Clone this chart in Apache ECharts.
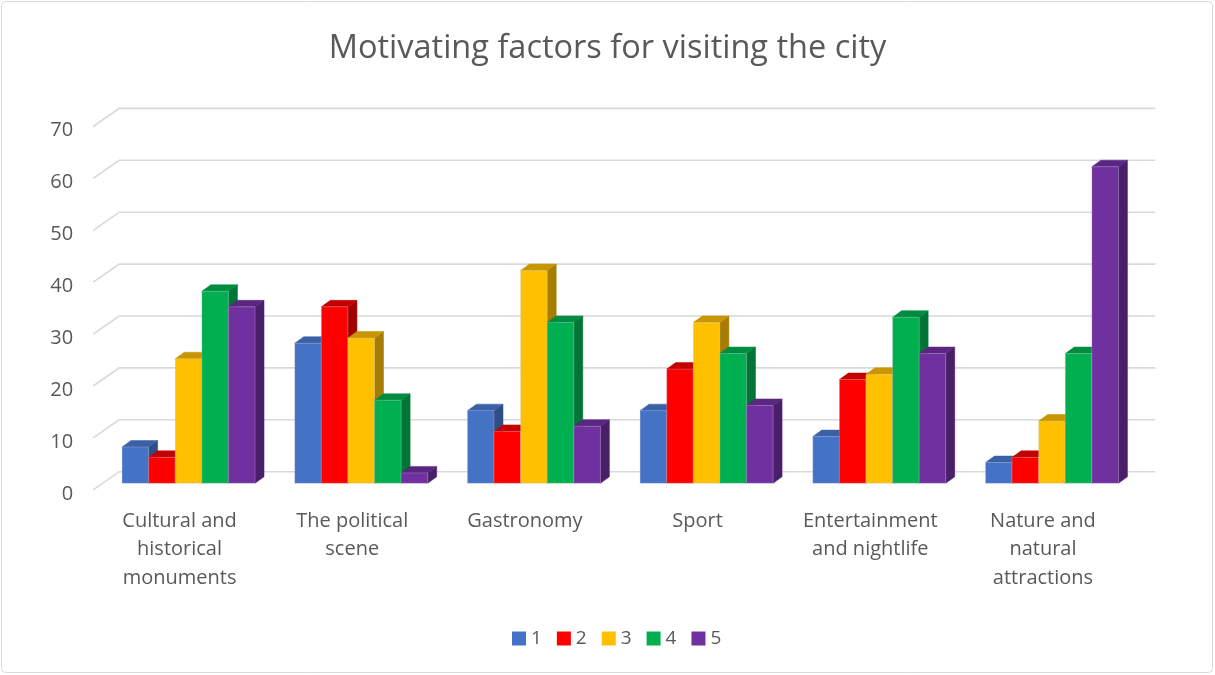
<!DOCTYPE html>
<html>
<head>
<meta charset="utf-8">
<script src="https://cdn.jsdelivr.net/npm/echarts@6/dist/echarts.min.js"></script>
<style>
html,body{margin:0;padding:0;background:#fff;}
#chart{width:1215px;height:675px;}
</style>
</head>
<body>
<div id="chart"></div>
<script>
const categories = ['Cultural and\nhistorical\nmonuments', 'The political\nscene', 'Gastronomy', 'Sport', 'Entertainment\nand nightlife', 'Nature and\nnatural\nattractions'];
const seriesNames = ['1', '2', '3', '4', '5'];
const values1 = [7, 27, 14, 14, 9, 4];
const values2 = [5, 34, 10, 22, 20, 5];
const values3 = [24, 28, 41, 31, 21, 12];
const values4 = [37, 16, 31, 25, 32, 25];
const values5 = [34, 2, 11, 15, 25, 61];
const yTicks = [0, 10, 20, 30, 40, 50, 60, 70];

const allValues = [values1, values2, values3, values4, values5];
const palette = [
  {front: '#4472C4', top: '#3A60A6', side: '#2F4E88'},
  {front: '#FF0000', top: '#C40000', side: '#A30000'},
  {front: '#FFC000', top: '#C79600', side: '#A67D00'},
  {front: '#00B050', top: '#008C40', side: '#007535'},
  {front: '#7030A0', top: '#5A2682', side: '#4A1F6A'}
];
const FONT = 'Open Sans';
const DX = 9, DY = 6.5;

function barRender(si) {
  return function (params, api) {
    const cat = api.value(0), v = api.value(1);
    const base = api.coord([cat, 0]);
    const top = api.coord([cat, v]);
    const cw = api.size([1, 0])[0];
    const bw = cw * 0.77 / 5;
    const x0 = base[0] - 2.5 * bw + si * bw;
    const yt = top[1], yb = base[1];
    const c = palette[si];
    return {
      type: 'group',
      children: [
        {type: 'polygon', shape: {points: [[x0 + bw, yt], [x0 + bw + DX, yt - DY], [x0 + bw + DX, yb - DY], [x0 + bw, yb]]},
         style: {fill: c.side, stroke: c.side, lineWidth: 0.5}},
        {type: 'polygon', shape: {points: [[x0, yt], [x0 + bw, yt], [x0 + bw + DX, yt - DY], [x0 + DX, yt - DY]]},
         style: {fill: c.top, stroke: c.top, lineWidth: 0.5}},
        {type: 'rect', shape: {x: x0, y: yt, width: bw, height: yb - yt},
         style: {fill: c.front, stroke: 'rgba(200,200,220,0.5)', lineWidth: 0.6}}
      ]
    };
  };
}

function gridRender(params, api) {
  const cs = params.coordSys;
  const y = api.coord([0, api.value(1)])[1];
  return {
    type: 'polyline',
    shape: {points: [[cs.x - 9, y + 6.5], [cs.x + 17, y - 11.6], [cs.x + cs.width + 17, y - 11.6]]},
    style: {stroke: '#D9D9D9', lineWidth: 1.6, fill: null}
  };
}

const series = [{
  type: 'custom', name: 'gridlines', xAxisIndex: 0, yAxisIndex: 0, silent: true, clip: false, z: 1,
  renderItem: gridRender,
  data: yTicks.map(t => [0, t])
}];
seriesNames.forEach((n, i) => {
  series.push({
    type: 'custom', name: n, xAxisIndex: 0, yAxisIndex: 0, clip: false, z: 2 + i,
    itemStyle: {color: palette[i].front},
    renderItem: barRender(i),
    encode: {x: 0, y: 1},
    data: allValues[i].map((v, k) => [k, v])
  });
});

const chart = echarts.init(document.getElementById('chart'));
chart.setOption({
  animation: false,
  backgroundColor: '#fff',
  title: {
    text: 'Motivating factors for visiting the city',
    left: 'center', top: 27,
    textStyle: {fontFamily: FONT, fontSize: 32.5, fontWeight: 'normal', color: '#595959'}
  },
  legend: {
    data: seriesNames, left: 507, top: 624, icon: 'rect', itemWidth: 14, itemHeight: 14, itemGap: 15, itemStyle: {borderWidth: 0},
    textStyle: {fontFamily: FONT, fontSize: 19, color: '#595959'}
  },
  grid: [
    {left: 102.2, right: 76.7, top: 120, bottom: 191.7},
    {left: 93.2, right: 85.7, top: 130.5, bottom: 181.2}
  ],
  xAxis: [
    {type: 'category', gridIndex: 0, data: categories, axisLine: {show: false}, axisTick: {show: false}, axisLabel: {show: false}},
    {type: 'category', gridIndex: 1, data: categories, axisLine: {show: false}, axisTick: {show: false},
     axisLabel: {interval: 0, margin: 13, lineHeight: 28.5, fontFamily: FONT, fontSize: 20, color: '#595959'}}
  ],
  yAxis: [
    {type: 'value', gridIndex: 0, min: 0, max: 70, interval: 10, axisLabel: {show: false}, splitLine: {show: false}, axisLine: {show: false}},
    {type: 'value', gridIndex: 1, min: 0, max: 70, interval: 10, splitLine: {show: false}, axisLine: {show: false},
     axisLabel: {margin: 20, fontFamily: FONT, fontSize: 20, color: '#595959'}}
  ],
  graphic: [{
    type: 'rect', shape: {x: 1.5, y: 1.5, width: 1211, height: 671, r: 4},
    style: {fill: null, stroke: '#D9D9D9', lineWidth: 1}, silent: true
  }],
  series: series
});
</script>
</body>
</html>
